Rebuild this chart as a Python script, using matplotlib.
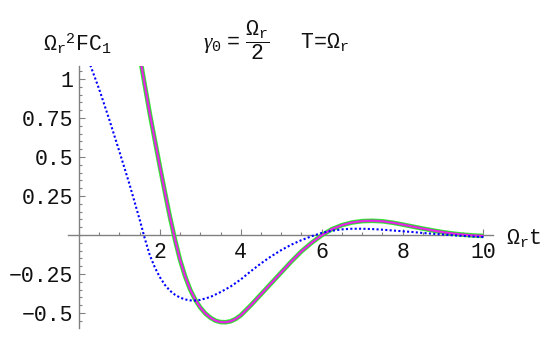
import numpy as np
from matplotlib import pyplot as plt

# Mathematica-like look: Courier-ish mono for text, serif italic for greek
plt.rcParams['mathtext.fontset'] = 'custom'
plt.rcParams['mathtext.rm'] = 'Liberation Mono'
plt.rcParams['mathtext.it'] = 'Liberation Serif:italic'
plt.rcParams['mathtext.bf'] = 'Liberation Mono:bold'
plt.rcParams['font.family'] = ['Liberation Mono', 'DejaVu Sans']

# full solution (thick green / magenta curve)
t_full = [1.0, 1.25, 1.5, 1.75, 2.0, 2.125, 2.25, 2.375, 2.5, 2.625, 2.75,
          2.875, 3.0, 3.125, 3.25, 3.375, 3.5, 3.625, 3.75, 3.875, 4.0, 4.25,
          4.5, 4.75, 5.0, 5.25, 5.5, 5.75, 6.0, 6.25, 6.5, 6.75, 7.0, 7.25,
          7.5, 7.75, 8.0, 8.25, 8.5, 8.75, 9.0, 9.25, 9.5, 9.75, 10.0]
fc_full = [1.90, 1.52, 1.15, 0.78, 0.44, 0.275, 0.115, -0.03, -0.16, -0.265,
           -0.35, -0.415, -0.465, -0.503, -0.53, -0.549, -0.558, -0.559,
           -0.553, -0.538, -0.515, -0.45, -0.38, -0.31, -0.24, -0.17, -0.105,
           -0.05, -0.002, 0.037, 0.063, 0.080, 0.089, 0.091, 0.088, 0.079,
           0.067, 0.054, 0.041, 0.029, 0.018, 0.009, 0.002, -0.003, -0.006]

# approximate solution (blue dotted curve)
t_approx = [0.0, 0.25, 0.5, 0.75, 1.0, 1.25, 1.5, 1.625, 1.75, 1.875, 2.0,
            2.125, 2.25, 2.375, 2.5, 2.625, 2.75, 2.875, 3.0, 3.25, 3.5, 3.75,
            4.0, 4.25, 4.5, 4.75, 5.0, 5.25, 5.5, 5.75, 6.0, 6.25, 6.5, 6.75,
            7.0, 7.25, 7.5, 7.75, 8.0, 8.25, 8.5, 8.75, 9.0, 9.25, 9.5, 9.75,
            10.0]
fc_approx = [1.27, 1.11, 0.935, 0.74, 0.535, 0.325, 0.10, -0.02, -0.128,
             -0.207, -0.27, -0.32, -0.357, -0.383, -0.401, -0.413, -0.419,
             -0.42, -0.416, -0.397, -0.366, -0.33, -0.285, -0.232, -0.182,
             -0.137, -0.097, -0.062, -0.033, -0.008, 0.013, 0.027, 0.036,
             0.040, 0.040, 0.038, 0.034, 0.029, 0.024, 0.019, 0.013, 0.008,
             0.003, -0.002, -0.006, -0.010, -0.013]

x_ticks = [2, 4, 6, 8, 10]
y_ticks = [-0.5, -0.25, 0.25, 0.5, 0.75, 1]
y_tick_labels = ['\u22120.5', '\u22120.25', '0.25', '0.5', '0.75', '1']


def main():
    W, H = 554, 343
    fs = 15.5
    fig = plt.figure(figsize=(W / 100, H / 100), dpi=100)
    # axes box in pixels: x 68..493, y 66..328
    ax = fig.add_axes([68 / W, 1 - 328 / H, 425 / W, 262 / H])
    ax.set_xlim(-0.27, 10.235)
    ax.set_ylim(-0.596, 1.083)

    ax.plot(t_full, fc_full, color='#33ee33', lw=3.3, solid_capstyle='butt',
            solid_joinstyle='round')
    ax.plot(t_full, fc_full, color='#777777', lw=2.0, solid_capstyle='butt',
            solid_joinstyle='round')
    ax.plot(t_full, fc_full, color='#ee22ee', lw=1.3, solid_capstyle='butt',
            solid_joinstyle='round')
    ax.plot(t_approx, fc_approx, color='#0000ff', lw=1.5, ls=(0, (1.0, 1.1)))

    # axes through the origin
    for s in ['top', 'right']:
        ax.spines[s].set_visible(False)
    ax.spines['left'].set_position(('data', 0))
    ax.spines['bottom'].set_position(('data', 0))
    for s in ['left', 'bottom']:
        ax.spines[s].set_color('#808080')
        ax.spines[s].set_linewidth(1.0)
        ax.spines[s].set_zorder(0.5)

    ax.set_xticks(x_ticks)
    ax.set_xticklabels([str(v) for v in x_ticks])
    ax.set_yticks(y_ticks)
    ax.set_yticklabels(y_tick_labels)
    ax.set_xticks(np.arange(0.5, 10.01, 0.5), minor=True)
    ax.set_yticks(np.arange(-0.55, 1.06, 0.05), minor=True)
    ax.tick_params(which='both', direction='in', color='#808080', width=0.8,
                   labelsize=fs, labelcolor='#111111')
    ax.tick_params(which='major', length=4.5)
    ax.tick_params(which='minor', length=2.5)
    ax.tick_params(axis='x', pad=5)
    ax.tick_params(axis='y', pad=4)

    # labels
    fig.text(77 / W, 1 - 44 / H, r'$\Omega_{\mathrm{r}}{}^{2}\mathrm{FC}_{1}$',
             ha='center', va='center', fontsize=fs, color='#111111')
    fig.text(203 / W, 1 - 40 / H,
             r'$\gamma_{0}\,=\,\dfrac{\Omega_{\mathrm{r}}}{2}$',
             ha='left', va='center', fontsize=fs, color='#111111')
    fig.text(300 / W, 1 - 42 / H, r'$\mathrm{T}\!=\!\Omega_{\mathrm{r}}$',
             ha='left', va='center', fontsize=fs, color='#111111')
    fig.text(506 / W, 1 - 238 / H, r'$\Omega_{\mathrm{r}}\mathrm{t}$',
             ha='left', va='center', fontsize=fs, color='#111111')

    fig.savefig('out.png', dpi=100)


if __name__ == "__main__":
    main()
